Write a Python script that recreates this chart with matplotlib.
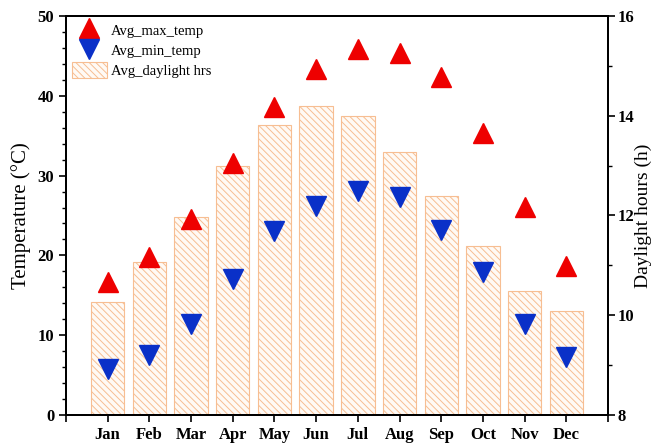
import matplotlib
matplotlib.use("Agg")
import matplotlib.pyplot as plt
from matplotlib.ticker import MultipleLocator

plt.rcParams['font.family'] = ['Liberation Serif', 'DejaVu Serif']
plt.rcParams['hatch.linewidth'] = 0.7

months = ['Jan', 'Feb', 'Mar', 'Apr', 'May', 'Jun',
          'Jul', 'Aug', 'Sep', 'Oct', 'Nov', 'Dec']
avg_max_temp = [16.7, 19.8, 24.6, 31.6, 38.6, 43.4, 45.9, 45.3, 42.3, 35.3, 26.1, 18.7]
avg_min_temp = [5.8, 7.5, 11.4, 17.1, 23.0, 26.2, 28.1, 27.3, 23.2, 17.9, 11.4, 7.3]
avg_daylight = [10.27, 11.07, 11.97, 12.99, 13.81, 14.2, 14.0, 13.28, 12.39, 11.39, 10.48, 10.08]

x = list(range(1, len(months) + 1))

fig = plt.figure(figsize=(6.54, 4.48), dpi=100)
ax = fig.add_axes([0.1009, 0.0737, 0.8288, 0.8906])
ax2 = ax.twinx()

# daylight bars on the right-hand scale, starting from its lower limit
ax2.bar(x, [d - 8 for d in avg_daylight], bottom=8, width=0.8,
        facecolor='#FFFAF5', edgecolor='#F7BE92', hatch='\\\\\\\\\\',
        linewidth=0.8, label='Avg_daylight hrs')
ax2.set_ylim(8, 16)
ax2.yaxis.set_major_locator(MultipleLocator(2))
ax2.yaxis.set_minor_locator(MultipleLocator(1))
ax2.set_ylabel('Daylight hours (h)', fontsize=14)
ax2.yaxis.set_label_coords(1.050, 0.5)

# temperature markers drawn above the bars
ax.set_zorder(ax2.get_zorder() + 1)
ax.patch.set_visible(False)
ax.plot(x, avg_max_temp, linestyle='none', marker='^', markersize=14,
        color='#EE0000', label='Avg_max_temp')
ax.plot(x, avg_min_temp, linestyle='none', marker='v', markersize=14,
        color='#0A30C8', label='Avg_min_temp')
ax.set_ylim(0, 50)
ax.set_xlim(0, 13)
ax.yaxis.set_major_locator(MultipleLocator(10))
ax.yaxis.set_minor_locator(MultipleLocator(2))
ax.set_xticks(range(0, 14))
ax.set_xticklabels([''] + months + [''])
ax.set_ylabel('Temperature (°C)', fontsize=15, labelpad=5)

for a in (ax, ax2):
    for s in a.spines.values():
        s.set_linewidth(1.4)
    a.tick_params(which='major', direction='out', length=5, width=1.2,
                  labelsize=12)
    a.tick_params(which='minor', direction='out', length=3, width=1.0)
    for lab in a.get_xticklabels() + a.get_yticklabels():
        lab.set_fontweight('bold')
ax2.tick_params(axis='y', which='major', pad=2)
ax.tick_params(axis='x', which='minor', bottom=False)
ax2.tick_params(axis='x', which='both', top=False, labeltop=False)

h1, l1 = ax.get_legend_handles_labels()
h2, l2 = ax2.get_legend_handles_labels()
ax.legend(h1 + h2, l1 + l2, loc='upper left', frameon=False, fontsize=10.5,
          handlelength=2.4, handleheight=1.3, labelspacing=0.3,
          handletextpad=0.3, borderaxespad=0.2, borderpad=0.2)

fig.savefig('out.png', dpi=100)
